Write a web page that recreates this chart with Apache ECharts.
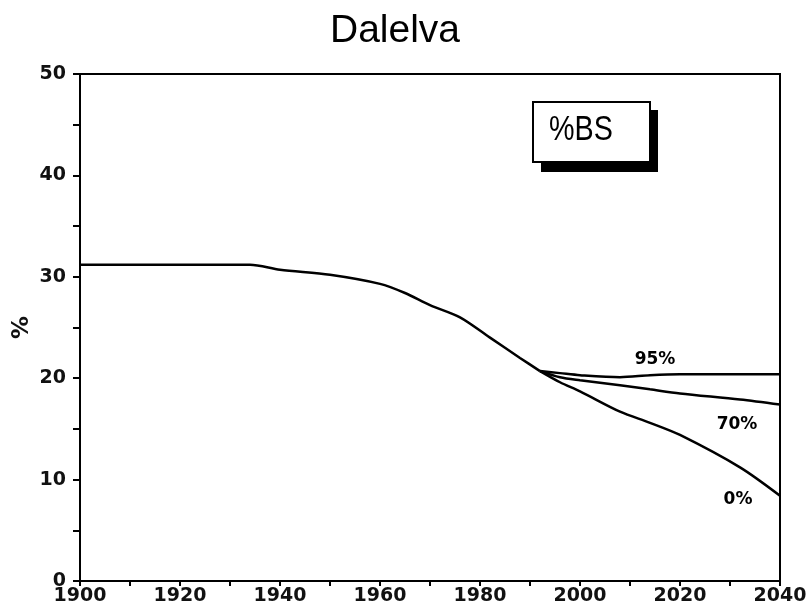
<!DOCTYPE html>
<html>
<head>
<meta charset="utf-8">
<script src="https://cdn.jsdelivr.net/npm/echarts@6/dist/echarts.min.js"></script>
<style>
  html, body { margin: 0; padding: 0; background: #fff; }
  #chart { width: 807px; height: 615px; }
</style>
</head>
<body>
<div id="chart"></div>
<script>
// common trajectory up to where the scenarios split
const baseYears = [1900, 1934, 1940, 1950, 1960, 1965, 1970, 1976, 1982, 1988, 1992]
const baseVals = [31.2, 31.2, 30.7, 30.2, 29.3, 28.4, 27.2, 26.0, 24.0, 22.0, 20.7]

// scenarios after the split
const splitYears = [1992, 1996, 2000, 2008, 2014, 2020, 2032, 2040]
const s95 = [20.7, 20.5, 20.3, 20.1, 20.3, 20.4, 20.4, 20.4]
const s70 = [20.7, 20.1, 19.8, 19.3, 18.9, 18.5, 17.9, 17.4]
const s0 = [20.7, 19.6, 18.7, 16.7, 15.6, 14.4, 11.2, 8.4]

const scenarioNames = ['95%', '70%', '0%']
// where the scenario labels sit (year, value)
const labelAt = [[2015, 21.8], [2031.4, 15.4], [2031.6, 8.0]]

const xTicks = [1900, 1920, 1940, 1960, 1980, 2000, 2020, 2040]

const pairs = (xs, ys) => xs.map((x, i) => [x, ys[i]])

const chart = echarts.init(document.getElementById('chart'))

const lineStyle = { color: '#000', width: 2.5 }
const font = 'DejaVu Sans'

const scenarioSeries = [s95, s70, s0].map((vals, i) => ({
  name: scenarioNames[i],
  type: 'line',
  data: pairs(splitYears, vals),
  showSymbol: false,
  smooth: 0.3,
  lineStyle: lineStyle,
  markPoint: {
    symbolSize: 0,
    label: { show: true, formatter: scenarioNames[i], color: '#000', fontFamily: font, fontSize: 17, fontWeight: 'bold' },
    data: [{ coord: labelAt[i] }]
  }
}))

chart.setOption({
  animation: false,
  backgroundColor: '#fff',
  title: {
    text: 'Dalelva',
    left: 325,
    top: 7,
    textStyle: { fontFamily: 'Liberation Sans', fontWeight: 'normal', fontSize: 39, color: '#000' }
  },
  grid: {
    left: 80, right: 27, top: 74, bottom: 34,
    outerBoundsMode: 'none',
    show: true, borderColor: '#000', borderWidth: 2, backgroundColor: 'transparent'
  },
  xAxis: {
    type: 'value',
    min: 1900, max: 2040, interval: 20,
    axisLine: { lineStyle: { color: '#000', width: 2 } },
    axisTick: { show: true, length: 5, lineStyle: { color: '#000', width: 2 } },
    minorTick: { show: true, splitNumber: 2, length: 5, lineStyle: { color: '#000', width: 2 } },
    splitLine: { show: false },
    axisLabel: {
      color: '#111', fontFamily: font, fontSize: 19, fontWeight: 'bold', margin: 6,
      customValues: xTicks,
      formatter: v => String(v)
    }
  },
  yAxis: {
    type: 'value',
    min: 0, max: 50, interval: 10,
    name: '%',
    nameLocation: 'middle',
    nameGap: 50,
    nameRotate: -90,
    nameTextStyle: { color: '#111', fontFamily: font, fontSize: 23, fontWeight: 'bold' },
    axisLine: { show: true, lineStyle: { color: '#000', width: 2 } },
    axisTick: { show: true, length: 7, lineStyle: { color: '#000', width: 2 } },
    minorTick: { show: true, splitNumber: 2, length: 7, lineStyle: { color: '#000', width: 2 } },
    splitLine: { show: false },
    axisLabel: { color: '#111', fontFamily: font, fontSize: 19, fontWeight: 'bold', margin: 14 }
  },
  graphic: [
    {
      type: 'rect', shape: { x: 541, y: 110, width: 117, height: 62 },
      style: { fill: '#000' }
    },
    {
      type: 'rect', shape: { x: 533, y: 102, width: 117, height: 60 },
      style: { fill: '#fff', stroke: '#000', lineWidth: 2 }
    },
    {
      type: 'text', x: 549, y: 113, scaleX: 0.82,
      style: { text: '%BS', fontFamily: 'Liberation Sans', fontSize: 35, fill: '#000' }
    }
  ],
  series: [
    {
      name: 'base',
      type: 'line',
      data: pairs(baseYears, baseVals),
      showSymbol: false,
      smooth: 0.3,
      lineStyle: lineStyle
    }
  ].concat(scenarioSeries)
})
</script>
</body>
</html>
